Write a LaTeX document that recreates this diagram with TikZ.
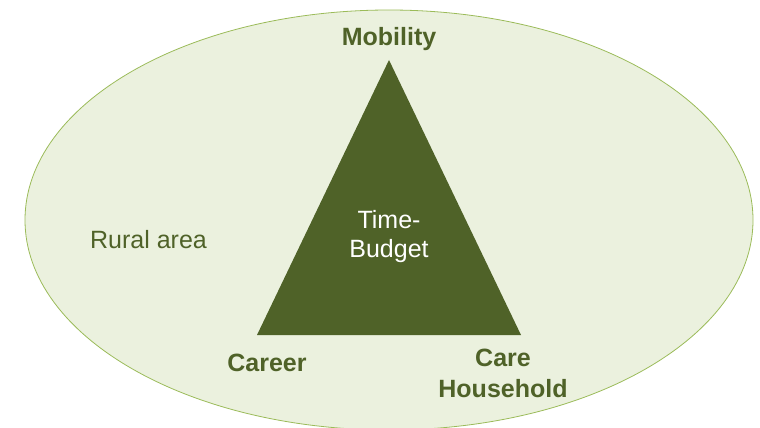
\documentclass[tikz,border=0pt]{standalone}
\usepackage{fontspec}
\setmainfont{Liberation Sans}
\definecolor{olivedark}{HTML}{4F6228}
\definecolor{olivepale}{HTML}{EBF1DE}
\definecolor{oliveline}{HTML}{9BBB59}
\begin{document}
\begin{tikzpicture}[x=1pt,y=-1pt,
  corner/.style={font=\fontsize{25}{31}\selectfont\bfseries,text=olivedark,anchor=base,inner sep=0pt,align=center},
  arealabel/.style={font=\fontsize{25}{31}\selectfont,text=olivedark,anchor=base,inner sep=0pt},
  centrelabel/.style={font=\fontsize{25}{29}\selectfont,text=white,anchor=base,inner sep=0pt,align=center}]
\useasboundingbox (0,0) rectangle (760,428);
\clip (0,0) rectangle (760,428);
% surrounding area
\draw[oliveline,fill=olivepale,line width=0.8pt] (389,220) ellipse [x radius=364, y radius=210];
% time-budget triangle
\coordinate (top) at (389,60);
\coordinate (left) at (257,335);
\coordinate (right) at (521,335);
\fill[olivedark] (top) -- (left) -- (right) -- cycle;
% labels (base anchor of a two-line node sits on its last line)
\node[corner] (mobility) at (389,46) {Mobility};
\node[corner] (career) at (267,371) {Career};
\node[corner] (care) at (503,397) {Care\\Household};
\node[arealabel] (rural) at (148.5,248) {Rural area};
\node[centrelabel] (budget) at (389,257) {Time-\\Budget};
\end{tikzpicture}
\end{document}
